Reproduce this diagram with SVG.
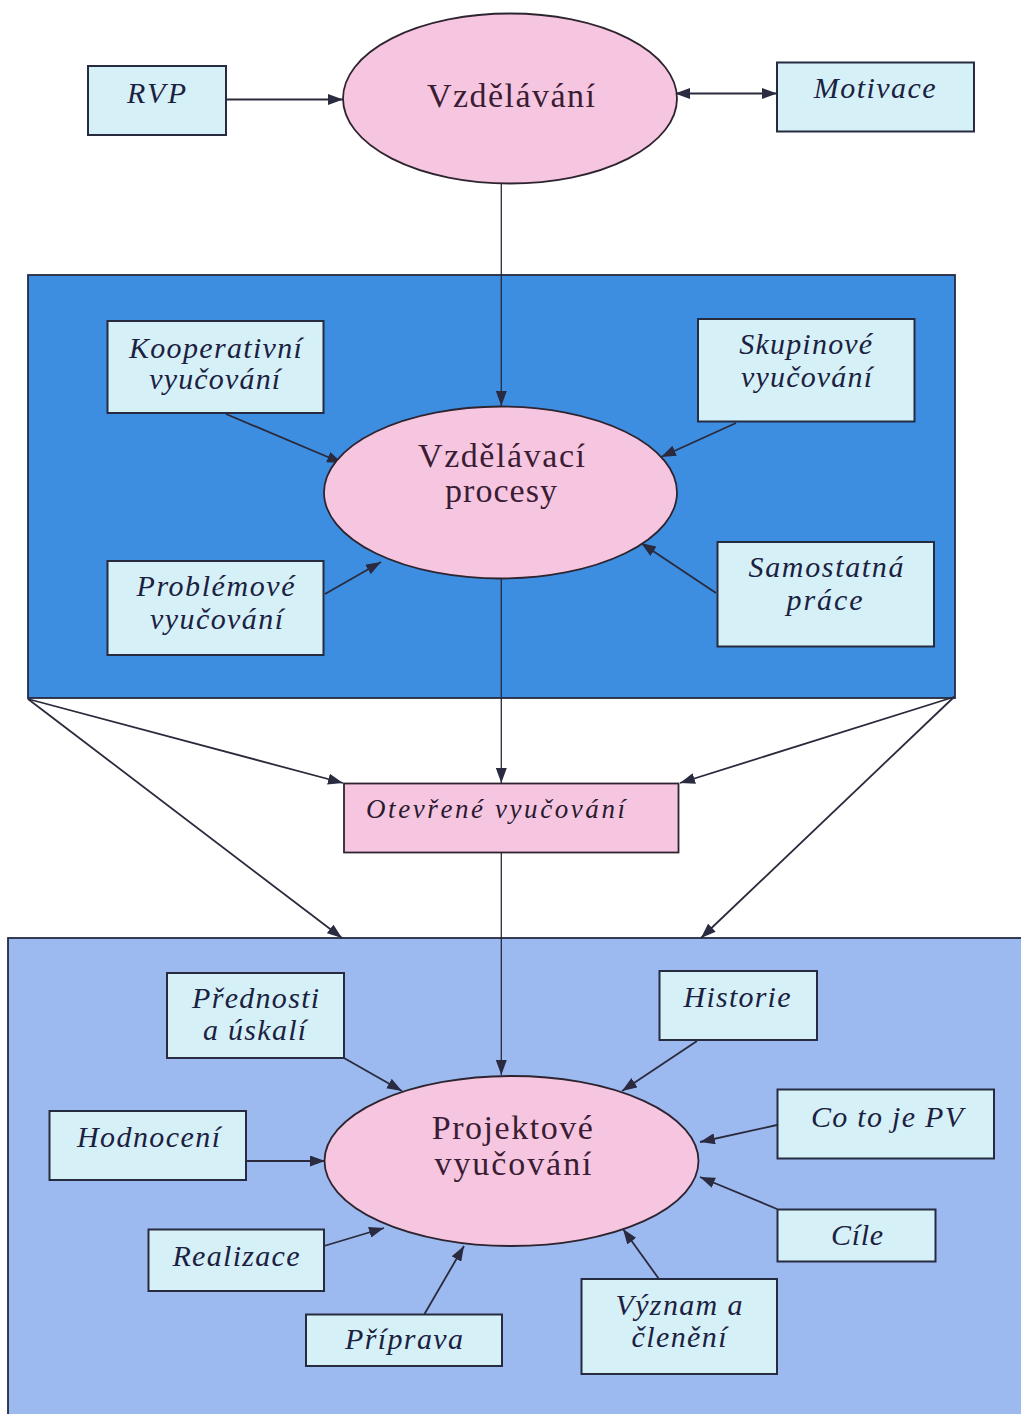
<svg xmlns="http://www.w3.org/2000/svg" width="1021" height="1414" viewBox="0 0 1021 1414">
<defs>
<style>
.box{fill:#d6f0f8;stroke:#262b40;stroke-width:2}
.pink{fill:#f6c6e0;stroke:#2e2430;stroke-width:1.8}
.bt{font-family:"Liberation Serif","Times New Roman",serif;font-style:italic;font-size:30px;fill:#1b2140;text-anchor:middle}
.et{font-family:"Liberation Serif","Times New Roman",serif;font-size:34px;fill:#3a1c33;text-anchor:middle}
.ln{stroke:#2a2a3c;stroke-width:1.8;fill:none}
.thin{stroke:#2a2a3c;stroke-width:1.3;fill:none}
</style>
<marker id="ah" viewBox="0 0 15 11" refX="15" refY="5.5" markerWidth="15" markerHeight="11" orient="auto-start-reverse" markerUnits="userSpaceOnUse">
<path d="M0,0 L15,5.5 L0,11 z" fill="#2a2a40"/>
</marker>
</defs>
<rect width="1021" height="1414" fill="#ffffff"/>

<g id="panel-procesy">
<rect x="28" y="275" width="927" height="423" fill="#3d8ee1" stroke="#262b40" stroke-width="1.8"/>
</g>
<g id="panel-projektove">
<rect x="8" y="938" width="1020" height="480" fill="#9cbaf0" stroke="#262b40" stroke-width="1.8"/>
</g>

<g id="connectors">
<line class="ln" x1="226" y1="99.5" x2="343" y2="99.5" marker-end="url(#ah)"/>
<line class="ln" x1="675" y1="93.5" x2="777" y2="93.5" marker-start="url(#ah)" marker-end="url(#ah)"/>
<line class="thin" x1="501.3" y1="183" x2="501.3" y2="406" marker-end="url(#ah)"/>
<line class="ln" x1="226" y1="414" x2="342" y2="463" marker-end="url(#ah)"/>
<line class="ln" x1="736" y1="423" x2="661" y2="457" marker-end="url(#ah)"/>
<line class="ln" x1="325" y1="594" x2="381" y2="562" marker-end="url(#ah)"/>
<line class="ln" x1="716" y1="593" x2="641" y2="543" marker-end="url(#ah)"/>
<line class="thin" x1="501.3" y1="578" x2="501.3" y2="783" marker-end="url(#ah)"/>
<line class="ln" x1="28" y1="699" x2="343" y2="783" marker-end="url(#ah)"/>
<line class="ln" x1="28" y1="699" x2="342" y2="938" marker-end="url(#ah)"/>
<line class="ln" x1="954" y1="697" x2="680" y2="783" marker-end="url(#ah)"/>
<line class="ln" x1="954" y1="697" x2="701" y2="938" marker-end="url(#ah)"/>
<line class="thin" x1="501.3" y1="853" x2="501.3" y2="1075" marker-end="url(#ah)"/>
<line class="ln" x1="344" y1="1058" x2="402" y2="1091" marker-end="url(#ah)"/>
<line class="ln" x1="697" y1="1041" x2="622" y2="1091" marker-end="url(#ah)"/>
<line class="ln" x1="777" y1="1125" x2="700" y2="1142" marker-end="url(#ah)"/>
<line class="ln" x1="246" y1="1161" x2="325" y2="1161" marker-end="url(#ah)"/>
<line class="ln" x1="777" y1="1209" x2="700" y2="1177" marker-end="url(#ah)"/>
<line class="ln" x1="324" y1="1246" x2="384" y2="1228" marker-end="url(#ah)"/>
<line class="ln" x1="424.5" y1="1314" x2="464" y2="1246" marker-end="url(#ah)"/>
<line class="ln" x1="659" y1="1279" x2="623" y2="1229" marker-end="url(#ah)"/>
</g>

<g id="rvp">
<rect class="box" x="88" y="66" width="138" height="69"/>
<text class="bt" x="156.5" y="103" textLength="59" lengthAdjust="spacing">RVP</text>
</g>
<g id="vzdelavani">
<ellipse class="pink" cx="510" cy="98.5" rx="167" ry="85"/>
<text class="et" x="511" y="107" textLength="168" lengthAdjust="spacing">Vzdělávání</text>
</g>
<g id="motivace">
<rect class="box" x="777" y="62.5" width="197" height="69"/>
<text class="bt" x="874.7" y="98" textLength="122" lengthAdjust="spacing">Motivace</text>
</g>

<g id="kooperativni">
<rect class="box" x="107.5" y="321" width="216" height="92"/>
<text class="bt" x="215.4" y="358" textLength="173" lengthAdjust="spacing">Kooperativní</text>
<text class="bt" x="214.7" y="389" textLength="131" lengthAdjust="spacing">vyučování</text>
</g>
<g id="skupinove">
<rect class="box" x="698" y="319" width="216.5" height="102.5"/>
<text class="bt" x="805.7" y="354" textLength="133" lengthAdjust="spacing">Skupinové</text>
<text class="bt" x="806.5" y="387" textLength="131" lengthAdjust="spacing">vyučování</text>
</g>
<g id="vzdelavaci-procesy">
<ellipse class="pink" cx="500.5" cy="492.5" rx="176.5" ry="86"/>
<text class="et" x="501.5" y="467" textLength="167" lengthAdjust="spacing">Vzdělávací</text>
<text class="et" x="501" y="502" textLength="112" lengthAdjust="spacing">procesy</text>
</g>
<g id="problemove">
<rect class="box" x="107.5" y="561" width="216" height="94"/>
<text class="bt" x="215.5" y="596" textLength="158" lengthAdjust="spacing">Problémové</text>
<text class="bt" x="216.5" y="629" textLength="133" lengthAdjust="spacing">vyučování</text>
</g>
<g id="samostatna">
<rect class="box" x="717.5" y="542" width="216.5" height="104.5"/>
<text class="bt" x="826" y="577" textLength="155" lengthAdjust="spacing">Samostatná</text>
<text class="bt" x="824.5" y="610" textLength="76" lengthAdjust="spacing">práce</text>
</g>

<g id="otevrene">
<rect class="pink" x="344" y="783.5" width="334.5" height="69" stroke-width="2"/>
<text class="bt" x="495.5" y="818" style="font-size:27px;fill:#2a1a30" textLength="259" lengthAdjust="spacing">Otevřené vyučování</text>
</g>

<g id="projektove">
<ellipse class="pink" cx="511.5" cy="1161" rx="187" ry="85"/>
<text class="et" x="512.3" y="1139" textLength="161" lengthAdjust="spacing">Projektové</text>
<text class="et" x="513" y="1175" textLength="157" lengthAdjust="spacing">vyučování</text>
</g>
<g id="prednosti">
<rect class="box" x="167" y="973" width="177" height="85"/>
<text class="bt" x="255.6" y="1008" textLength="127" lengthAdjust="spacing">Přednosti</text>
<text class="bt" x="254.6" y="1040" textLength="103" lengthAdjust="spacing">a úskalí</text>
</g>
<g id="historie">
<rect class="box" x="659.5" y="971" width="157.5" height="69"/>
<text class="bt" x="737" y="1007" textLength="107" lengthAdjust="spacing">Historie</text>
</g>
<g id="hodnoceni">
<rect class="box" x="49.5" y="1111" width="196.5" height="69"/>
<text class="bt" x="148.5" y="1147" textLength="143" lengthAdjust="spacing">Hodnocení</text>
</g>
<g id="co-to-je-pv">
<rect class="box" x="777.5" y="1089.5" width="216.5" height="69"/>
<text class="bt" x="887" y="1127" textLength="152" lengthAdjust="spacing">Co to je PV</text>
</g>
<g id="cile">
<rect class="box" x="777.5" y="1209.5" width="158" height="52"/>
<text class="bt" x="857" y="1245" textLength="52" lengthAdjust="spacing">Cíle</text>
</g>
<g id="realizace">
<rect class="box" x="148.5" y="1229.5" width="175.5" height="61.5"/>
<text class="bt" x="236" y="1266" textLength="127" lengthAdjust="spacing">Realizace</text>
</g>
<g id="priprava">
<rect class="box" x="306" y="1314.5" width="196" height="51.5"/>
<text class="bt" x="404" y="1349" textLength="118" lengthAdjust="spacing">Příprava</text>
</g>
<g id="vyznam">
<rect class="box" x="581.5" y="1279" width="195.5" height="95"/>
<text class="bt" x="679" y="1315" textLength="127" lengthAdjust="spacing">Význam a</text>
<text class="bt" x="679" y="1347" textLength="95" lengthAdjust="spacing">členění</text>
</g>
</svg>
